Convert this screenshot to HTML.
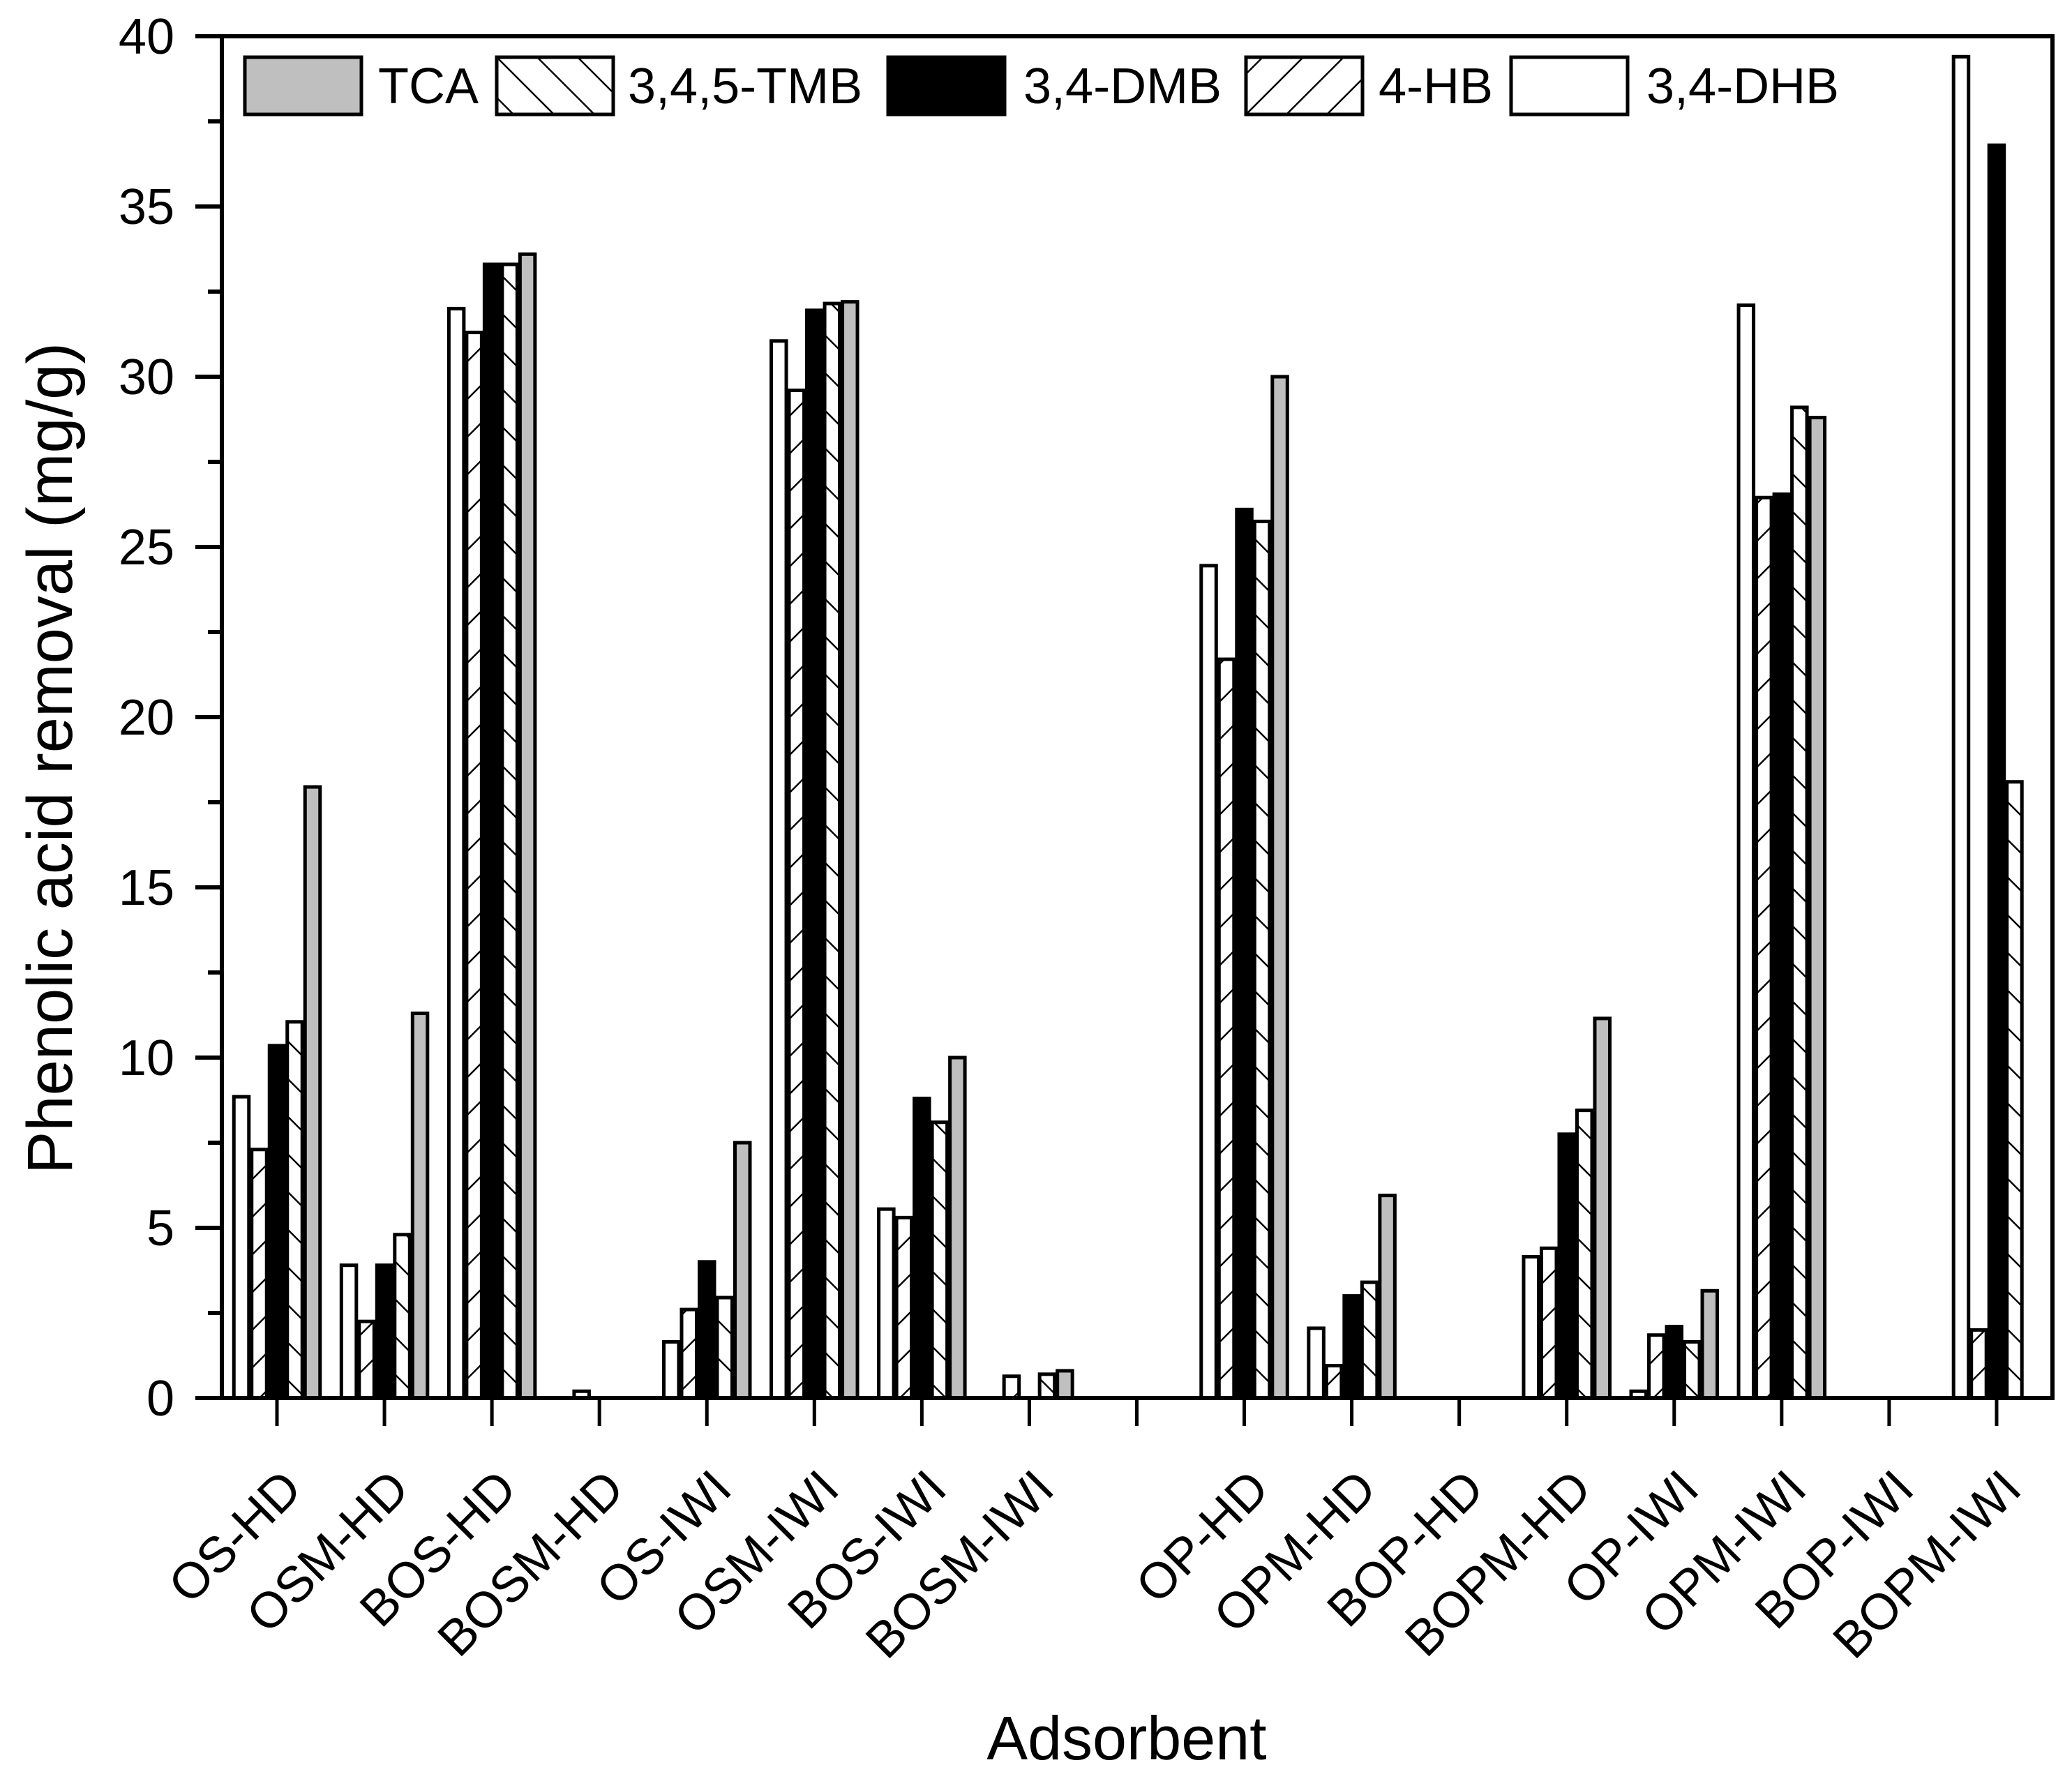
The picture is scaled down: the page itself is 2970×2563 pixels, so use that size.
<!DOCTYPE html>
<html><head><meta charset="utf-8"><style>
html,body{margin:0;padding:0;background:#fff;}
svg{display:block;font-family:"Liberation Sans",Arial,sans-serif;}
</style></head><body>
<svg id="chart" width="2970" height="2563" viewBox="0 0 2970 2563" xmlns="http://www.w3.org/2000/svg">
<defs>
<pattern id="hatchB" patternUnits="userSpaceOnUse" width="54" height="54">
<path d="M-2,-2 L56,56 M-56,-2 L2,56 M52,-2 L110,56" stroke="#000" stroke-width="2.5"/>
</pattern>
<pattern id="hatchF" patternUnits="userSpaceOnUse" width="54" height="54">
<path d="M-2,56 L56,-2 M-56,56 L2,-2 M52,56 L110,-2" stroke="#000" stroke-width="2.5"/>
</pattern>
<pattern id="lhatchB" patternUnits="userSpaceOnUse" width="58" height="82" patternTransform="translate(712,82)">
<path d="M0,0 L82,82 M-58,0 L24,82 M58,0 L140,82" stroke="#000" stroke-width="2.5"/>
</pattern>
<pattern id="lhatchF" patternUnits="userSpaceOnUse" width="58" height="82" patternTransform="translate(1786,82)">
<path d="M0,82 L82,0 M-58,82 L24,0 M58,82 L140,0" stroke="#000" stroke-width="2.5"/>
</pattern>
</defs>
<g id="bars"></g>
<g id="axes"></g>
<g id="legend"></g>
<text transform="translate(103,1087) rotate(-90)" text-anchor="middle" font-size="92" textLength="1192" lengthAdjust="spacingAndGlyphs">Phenolic acid removal (mg/g)</text>
<text x="1615" y="2522" text-anchor="middle" font-size="88">Adsorbent</text>
</svg>
<script>
const categories = ["OS-HD","OSM-HD","BOS-HD","BOSM-HD","OS-IWI","OSM-IWI","BOS-IWI","BOSM-IWI","","OP-HD","OPM-HD","BOP-HD","BOPM-HD","OP-IWI","OPM-IWI","BOP-IWI","BOPM-IWI"];
const seriesNames = ["3,4-DHB","4-HB","3,4-DMB","3,4,5-TMB","TCA"];
const dhb = [8.85,3.9,32.0,0,1.65,31.05,5.55,0,0,24.45,2.05,0,4.15,0.2,32.1,0,39.4];
const hb  = [7.3,2.25,31.3,0.2,2.6,29.6,5.3,0.64,0,21.7,0.95,0,4.4,1.85,26.45,0,2.0];
const dmb = [10.35,3.9,33.3,0,4.0,31.95,8.8,0,0,26.1,3.0,0,7.75,2.1,26.55,0,36.8];
const tmb = [11.05,4.8,33.3,0,2.95,32.15,8.1,0.7,0,25.75,3.4,0,8.45,1.65,29.1,0,18.1];
const tca = [17.95,11.3,33.6,0,7.5,32.2,10.0,0.8,0,30.0,5.95,0,11.15,3.15,28.8,0,0];
const yTicks = [0,5,10,15,20,25,30,35,40];

const NS="http://www.w3.org/2000/svg";
const X0=397, STEP=154.06, Y0=2004, PX=48.8, LEFT=318, RIGHT=2942, TOP=52, SLOT=25.5;
function xPos(i){return X0+i*STEP;}
function yPos(v){return Y0-v*PX;}
function mk(tag,attrs,parent){const e=document.createElementNS(NS,tag);for(const k in attrs)e.setAttribute(k,attrs[k]);parent.appendChild(e);return e;}

const seriesData=[dhb,hb,dmb,tmb,tca];
const fills=["#fff","url(#hatchF)","#000","url(#hatchB)","#bfbfbf"];
const barsG=document.getElementById('bars');
seriesData.forEach((arr,s)=>{
  arr.forEach((v,i)=>{
    if(!categories[i]||v<=0) return;
    const cx=xPos(i)+(s-2)*SLOT;
    const r=mk('rect',{x:cx-SLOT/2+2,y:yPos(v),width:SLOT-4,height:Y0-yPos(v),fill:fills[s],stroke:'#000','stroke-width':5},barsG);
    
    
  });
});

const ax=document.getElementById('axes');
const frame=mk('path',{d:`M${LEFT},${Y0} L${LEFT},${TOP} L${RIGHT},${TOP} L${RIGHT},${Y0} Z`,fill:'none',stroke:'#000','stroke-width':6},ax);


yTicks.forEach(t=>{
  const y=yPos(t);
  const l=mk('line',{x1:LEFT-38,x2:LEFT,y1:y,y2:y,stroke:'#000','stroke-width':6},ax);
  
  
  const tx=mk('text',{x:250,y:y+25,'text-anchor':'end','font-size':72},ax);
  tx.textContent=t;
  
  
  if(t<40){
    const m=mk('line',{x1:LEFT-20,x2:LEFT,y1:yPos(t+2.5),y2:yPos(t+2.5),stroke:'#000','stroke-width':6},ax);
    
    
  }
});
categories.forEach((c,i)=>{
  const x=xPos(i);
  const l=mk('line',{x1:x,x2:x,y1:Y0,y2:Y0+40,stroke:'#000','stroke-width':5},ax);
  
  
  if(!c) return;
  const t=mk('text',{transform:`translate(${x+39},2138) rotate(-45)`,'text-anchor':'end','font-size':72},ax);
  t.textContent=c;
  
  
});

const lg=document.getElementById('legend');
const legendNames=["TCA","3,4,5-TMB","3,4-DMB","4-HB","3,4-DHB"];
const legendFills=["#bfbfbf","url(#lhatchB)","#000","url(#lhatchF)","#fff"];
const legendBoxX=[351,712,1273,1786,2166];
const legendTextX=[542,900,1467,1976,2360];
legendNames.forEach((n,i)=>{
  const r=mk('rect',{x:legendBoxX[i],y:82,width:167,height:82,fill:legendFills[i],stroke:'#000','stroke-width':5},lg);
  
  
  const t=mk('text',{x:legendTextX[i],y:148,'font-size':72},lg);
  t.textContent=n;
  
  
});
</script>
</body></html>
